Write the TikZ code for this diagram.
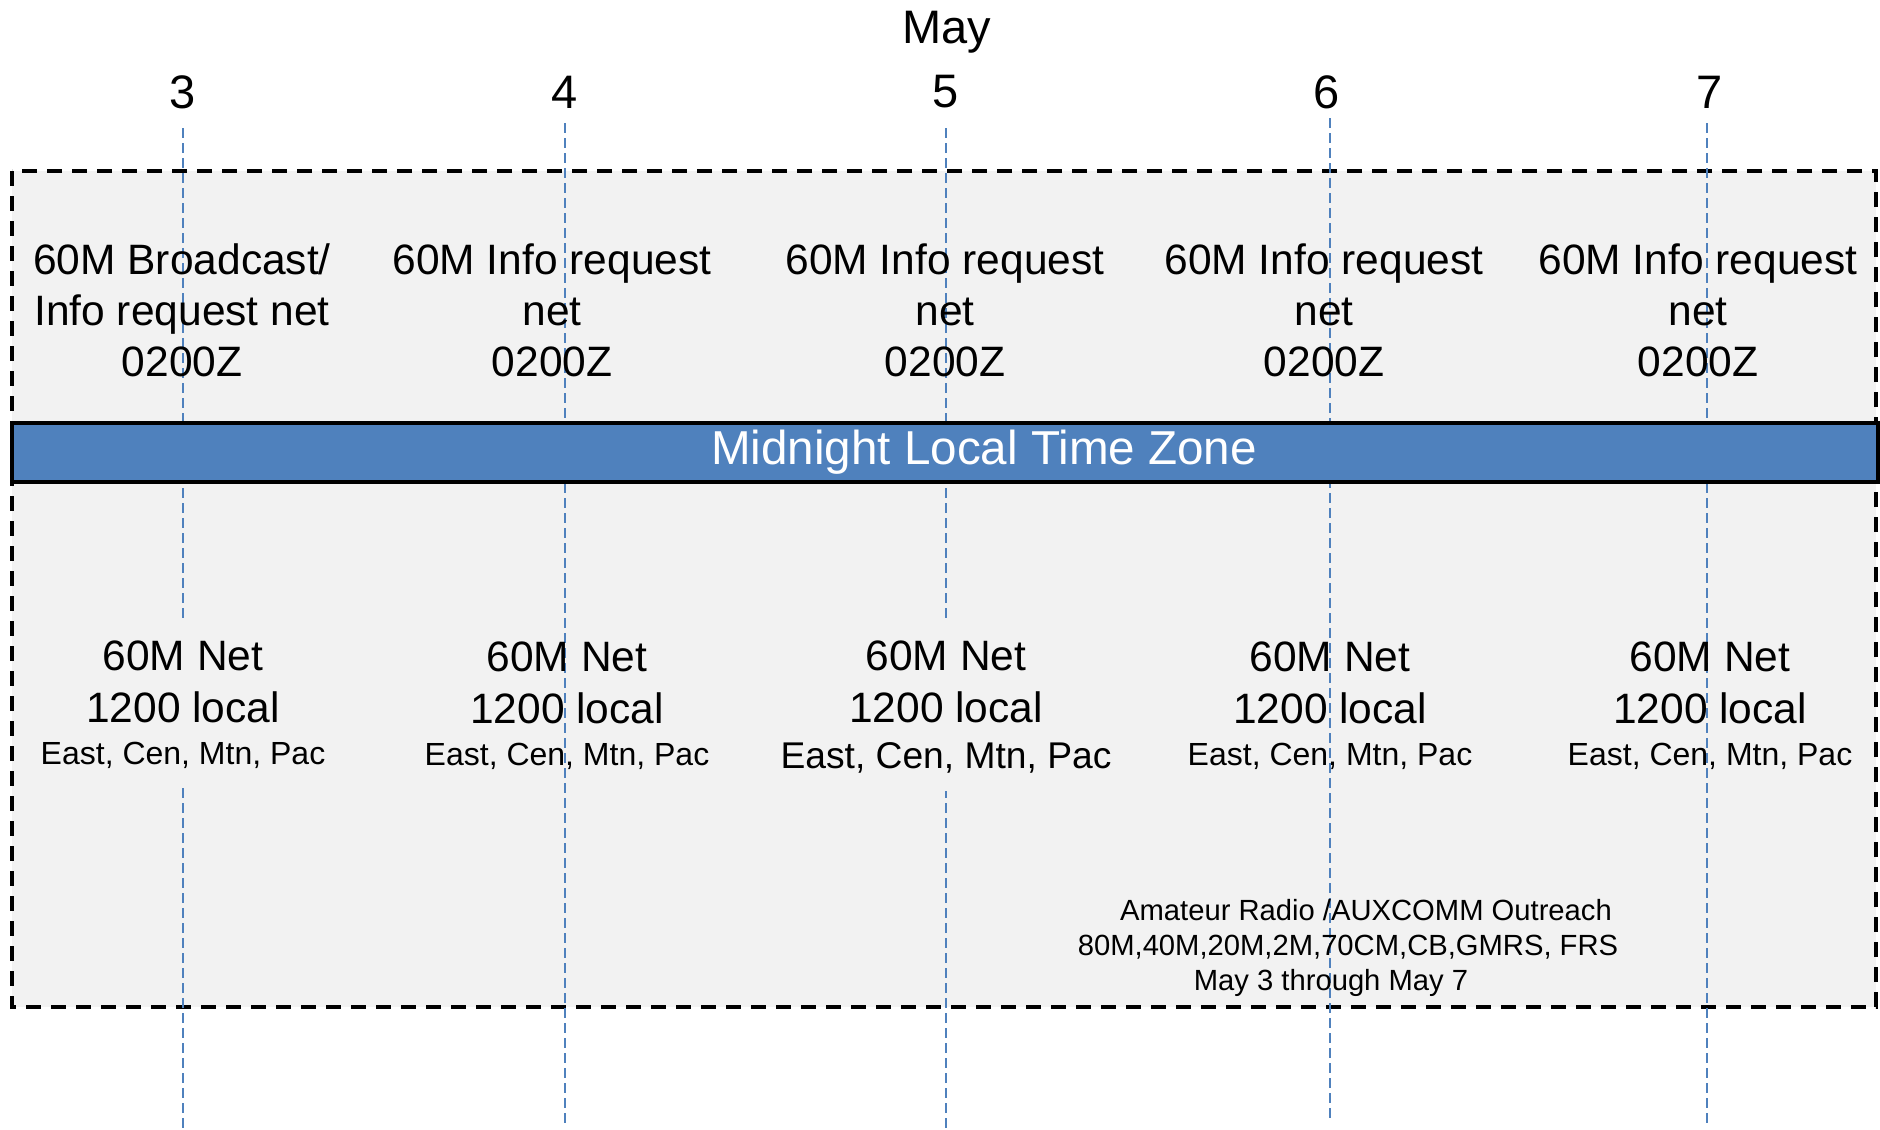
\documentclass[tikz,border=0pt]{standalone}
\usepackage{fontspec}
\setmainfont{Liberation Sans}
\definecolor{bandblue}{HTML}{4F81BD}
\definecolor{panelgray}{HTML}{F2F2F2}
\tikzset{
  daynum/.style={font=\fontsize{23.5}{28}\selectfont, inner sep=0pt},
  netbox/.style={align=center, inner sep=0pt, font=\fontsize{21.25}{25.5}\selectfont},
  localbox/.style={align=center, inner xsep=4pt, inner ysep=0pt, font=\fontsize{21.25}{26}\selectfont},
  dayline/.style={draw=bandblue, line width=0.75pt, dash pattern=on 5pt off 2.5pt}
}
\begin{document}
\begin{tikzpicture}[x=0.5pt, y=-0.5pt]
  \useasboundingbox (0,0) rectangle (1880,1130);
  \draw[fill=panelgray, line width=2pt, dash pattern=on 7.5pt off 5pt] (12,171) rectangle (1876,1007);
  \node[daynum] (month) at (947,32) {May};
  \node[daynum] (d3) at (183,92) {3};
  \node[daynum] (d4) at (565,92) {4};
  \node[daynum] (d5) at (946,92) {5};
  \node[daynum] (d6) at (1327,92) {6};
  \node[daynum] (d7) at (1710,92) {7};
  \coordinate (top3) at (183,128);
  \coordinate (top4) at (565,123);
  \coordinate (top5) at (946,128);
  \coordinate (top6) at (1330,118);
  \coordinate (top7) at (1707,123);
  \coordinate (bot3) at (183,1130);
  \coordinate (bot4) at (565,1127);
  \coordinate (bot5) at (946,1130);
  \coordinate (bot6) at (1330,1121);
  \coordinate (bot7) at (1707,1124);
  \draw[dayline] (top3) -- (bot3);
  \draw[dayline] (top4) -- (bot4);
  \draw[dayline] (top5) -- (bot5);
  \draw[dayline] (top6) -- (bot6);
  \draw[dayline] (top7) -- (bot7);
  \draw[fill=bandblue, line width=2pt] (12,423) rectangle (1878,482);
  \node[font=\fontsize{23.8}{28}\selectfont, text=white, inner sep=0pt] (zone) at (984,452) {Midnight Local Time Zone};
  \node[netbox] (info3) at (182,310) {60M Broadcast/\\Info request net\\0200Z};
  \node[netbox] (info4) at (552,310) {60M Info request\\net\\0200Z};
  \node[netbox] (info5) at (945,310) {60M Info request\\net\\0200Z};
  \node[netbox] (info6) at (1324,310) {60M Info request\\net\\0200Z};
  \node[netbox] (info7) at (1698,310) {60M Info request\\net\\0200Z};
  \node[localbox, fill=panelgray, inner ysep=9pt] (net3) at (183,705) {60M Net\\1200 local\\[-5pt]{\fontsize{16}{19}\selectfont East, Cen, Mtn, Pac}};
  \node[localbox] (net4) at (567,706) {60M Net\\1200 local\\[-5pt]{\fontsize{16}{19}\selectfont East, Cen, Mtn, Pac}};
  \node[localbox, fill=panelgray, inner ysep=9pt] (net5) at (946,707) {60M Net\\1200 local\\[-3pt]{\fontsize{18.6}{22}\selectfont East, Cen, Mtn, Pac}};
  \node[localbox] (net6) at (1330,706) {60M Net\\1200 local\\[-5pt]{\fontsize{16}{19}\selectfont East, Cen, Mtn, Pac}};
  \node[localbox] (net7) at (1710,706) {60M Net\\1200 local\\[-5pt]{\fontsize{16}{19}\selectfont East, Cen, Mtn, Pac}};
  \node[align=center, inner sep=0pt, font=\fontsize{14.6}{17.7}\selectfont] (outreach) at (1348,948) {\hspace*{18pt}Amateur Radio /AUXCOMM Outreach\\80M,40M,20M,2M,70CM,CB,GMRS, FRS\\May 3 through May 7\hspace*{17pt}};
\end{tikzpicture}
\end{document}
